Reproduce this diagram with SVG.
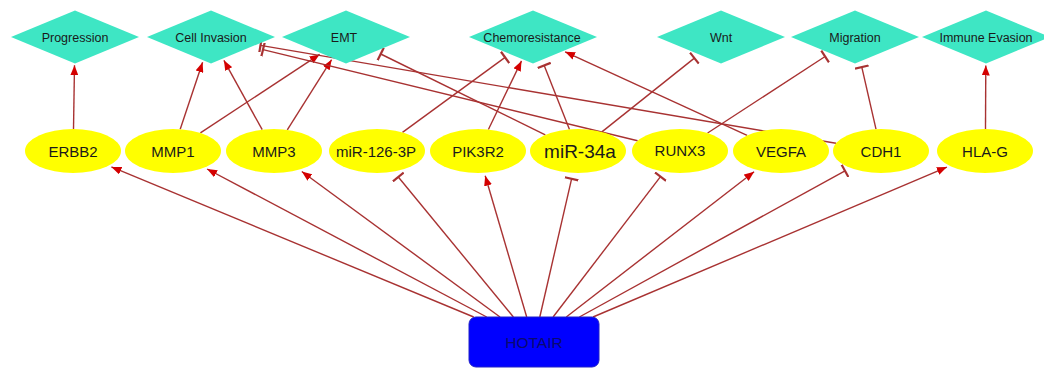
<svg xmlns="http://www.w3.org/2000/svg" width="1044" height="369" viewBox="0 0 1044 369">
<style>
.e{fill:none;stroke:#a83232;stroke-width:1.4}
.a{marker-end:url(#arr)}
.t{marker-end:url(#tee)}
.dia{fill:#3ee6c4}
.ell{fill:#ffff00}
.dl{font-family:"Liberation Sans",Arial,sans-serif;font-size:12.5px;fill:#1a1a1a;text-anchor:middle}
.gl{font-family:"Liberation Sans",Arial,sans-serif;font-size:15px;fill:#1a1a1a;text-anchor:middle}
</style>
<defs>
<marker id="arr" viewBox="0 0 10 8" refX="10" refY="4" markerWidth="10" markerHeight="8" markerUnits="userSpaceOnUse" orient="auto">
<path d="M0,0 L10,4 L0,8 z" fill="#d40000"/>
</marker>
<marker id="tee" viewBox="0 0 4 14" refX="2" refY="7" markerWidth="4" markerHeight="14" markerUnits="userSpaceOnUse" orient="auto">
<path d="M2,0 L2,14" stroke="#a83232" stroke-width="2.2"/>
</marker>
</defs>
<rect width="1044" height="369" fill="#ffffff"/>
<g id="connectors">
<line class="e a" x1="473.7" y1="317" x2="111.4" y2="166.9"/>
<line class="e a" x1="486.7" y1="317" x2="207.1" y2="169.0"/>
<line class="e a" x1="500.0" y1="317" x2="301.8" y2="171.5"/>
<line class="e t" x1="513.4" y1="317" x2="398.3" y2="177.0"/>
<line class="e a" x1="526.7" y1="317" x2="485.2" y2="175.7"/>
<line class="e t" x1="539.8" y1="317" x2="571.6" y2="178.8"/>
<line class="e t" x1="553.1" y1="317" x2="660.5" y2="176.6"/>
<line class="e a" x1="566.3" y1="317" x2="754.1" y2="171.7"/>
<line class="e t" x1="579.4" y1="317" x2="845.0" y2="170.8"/>
<line class="e a" x1="593.0" y1="317" x2="946.9" y2="167.1"/>
<line class="e a" x1="73.5" y1="129" x2="74.5" y2="65.3"/>
<line class="e a" x1="180.2" y1="129.2" x2="202.6" y2="62.2"/>
<line class="e a" x1="200.4" y1="132.9" x2="319.6" y2="54.4"/>
<line class="e a" x1="262.2" y1="129.7" x2="223.9" y2="60.3"/>
<line class="e a" x1="287.3" y1="129.9" x2="331.6" y2="59.7"/>
<line class="e t" x1="402.5" y1="132.4" x2="505.1" y2="57.4"/>
<line class="e a" x1="488.4" y1="129.5" x2="521.5" y2="60.9"/>
<line class="e t" x1="569.5" y1="129.4" x2="544.2" y2="65.4"/>
<line class="e a" x1="747.1" y1="135.4" x2="565.1" y2="51.8"/>
<line class="e t" x1="601.9" y1="131.9" x2="694.4" y2="58.1"/>
<line class="e t" x1="707.6" y1="133.0" x2="825.1" y2="56.5"/>
<line class="e t" x1="876.0" y1="129.1" x2="861.8" y2="67.1"/>
<line class="e a" x1="985.5" y1="129" x2="985.8" y2="65.5"/>
<line class="e t" x1="836.0" y1="143.3" x2="260.5" y2="45.4"/>
<line class="e t" x1="637.6" y1="140.7" x2="263.0" y2="49.6"/>
<line class="e t" x1="545.3" y1="134.9" x2="380.7" y2="54.0"/>
</g>
<g id="n-progression"><path class="dia" d="M11,37 L75,10.5 L139,37 L75,63.5 Z"/><text class="dl" x="75" y="41.5">Progression</text></g>
<g id="n-cellinvasion"><path class="dia" d="M147,37 L211,10.5 L275,37 L211,63.5 Z"/><text class="dl" x="211" y="41.5">Cell Invasion</text></g>
<g id="n-emt"><path class="dia" d="M282,37 L346,10.5 L410,37 L346,63.5 Z"/><text class="dl" x="344" y="41.5">EMT</text></g>
<g id="n-chemoresistance"><path class="dia" d="M469,37 L533,10.5 L597,37 L533,63.5 Z"/><text class="dl" x="532" y="41.5">Chemoresistance</text></g>
<g id="n-wnt"><path class="dia" d="M657,37 L721,10.5 L785,37 L721,63.5 Z"/><text class="dl" x="721" y="41.5">Wnt</text></g>
<g id="n-migration"><path class="dia" d="M791,37 L855,10.5 L919,37 L855,63.5 Z"/><text class="dl" x="855" y="41.5">Migration</text></g>
<g id="n-immuneevasion"><path class="dia" d="M922,37 L986,10.5 L1050,37 L986,63.5 Z"/><text class="dl" x="986" y="41.5">Immune Evasion</text></g>
<g id="n-erbb2"><ellipse class="ell" cx="73" cy="151" rx="48" ry="22"/><text class="gl" x="73" y="157">ERBB2</text></g>
<g id="n-mmp1"><ellipse class="ell" cx="173" cy="151" rx="48" ry="22"/><text class="gl" x="173" y="157">MMP1</text></g>
<g id="n-mmp3"><ellipse class="ell" cx="274" cy="151" rx="48" ry="22"/><text class="gl" x="274" y="157">MMP3</text></g>
<g id="n-mir126"><ellipse class="ell" cx="377" cy="151" rx="48" ry="22"/><text class="gl" x="376" y="157">miR-126-3P</text></g>
<g id="n-pik3r2"><ellipse class="ell" cx="478" cy="151" rx="48" ry="22"/><text class="gl" x="478" y="157">PIK3R2</text></g>
<g id="n-mir34a"><ellipse class="ell" cx="578" cy="151" rx="48" ry="22"/><text class="gl" x="580" y="158" style="font-size:19px">miR-34a</text></g>
<g id="n-runx3"><ellipse class="ell" cx="680" cy="151" rx="48" ry="22"/><text class="gl" x="680" y="156">RUNX3</text></g>
<g id="n-vegfa"><ellipse class="ell" cx="781" cy="151" rx="48" ry="22"/><text class="gl" x="781" y="157">VEGFA</text></g>
<g id="n-cdh1"><ellipse class="ell" cx="881" cy="151" rx="48" ry="22"/><text class="gl" x="881" y="157">CDH1</text></g>
<g id="n-hlag"><ellipse class="ell" cx="985" cy="151" rx="48" ry="22"/><text class="gl" x="985" y="157">HLA-G</text></g>
<g id="n-hotair"><rect x="469" y="317" width="130" height="50" rx="7" fill="#0000ff" stroke="#2020c8" stroke-width="1"/><text x="534" y="348" text-anchor="middle" font-family="Liberation Sans, Arial, sans-serif" font-size="15.5" fill="#0a0a70">HOTAIR</text></g>
</svg>
